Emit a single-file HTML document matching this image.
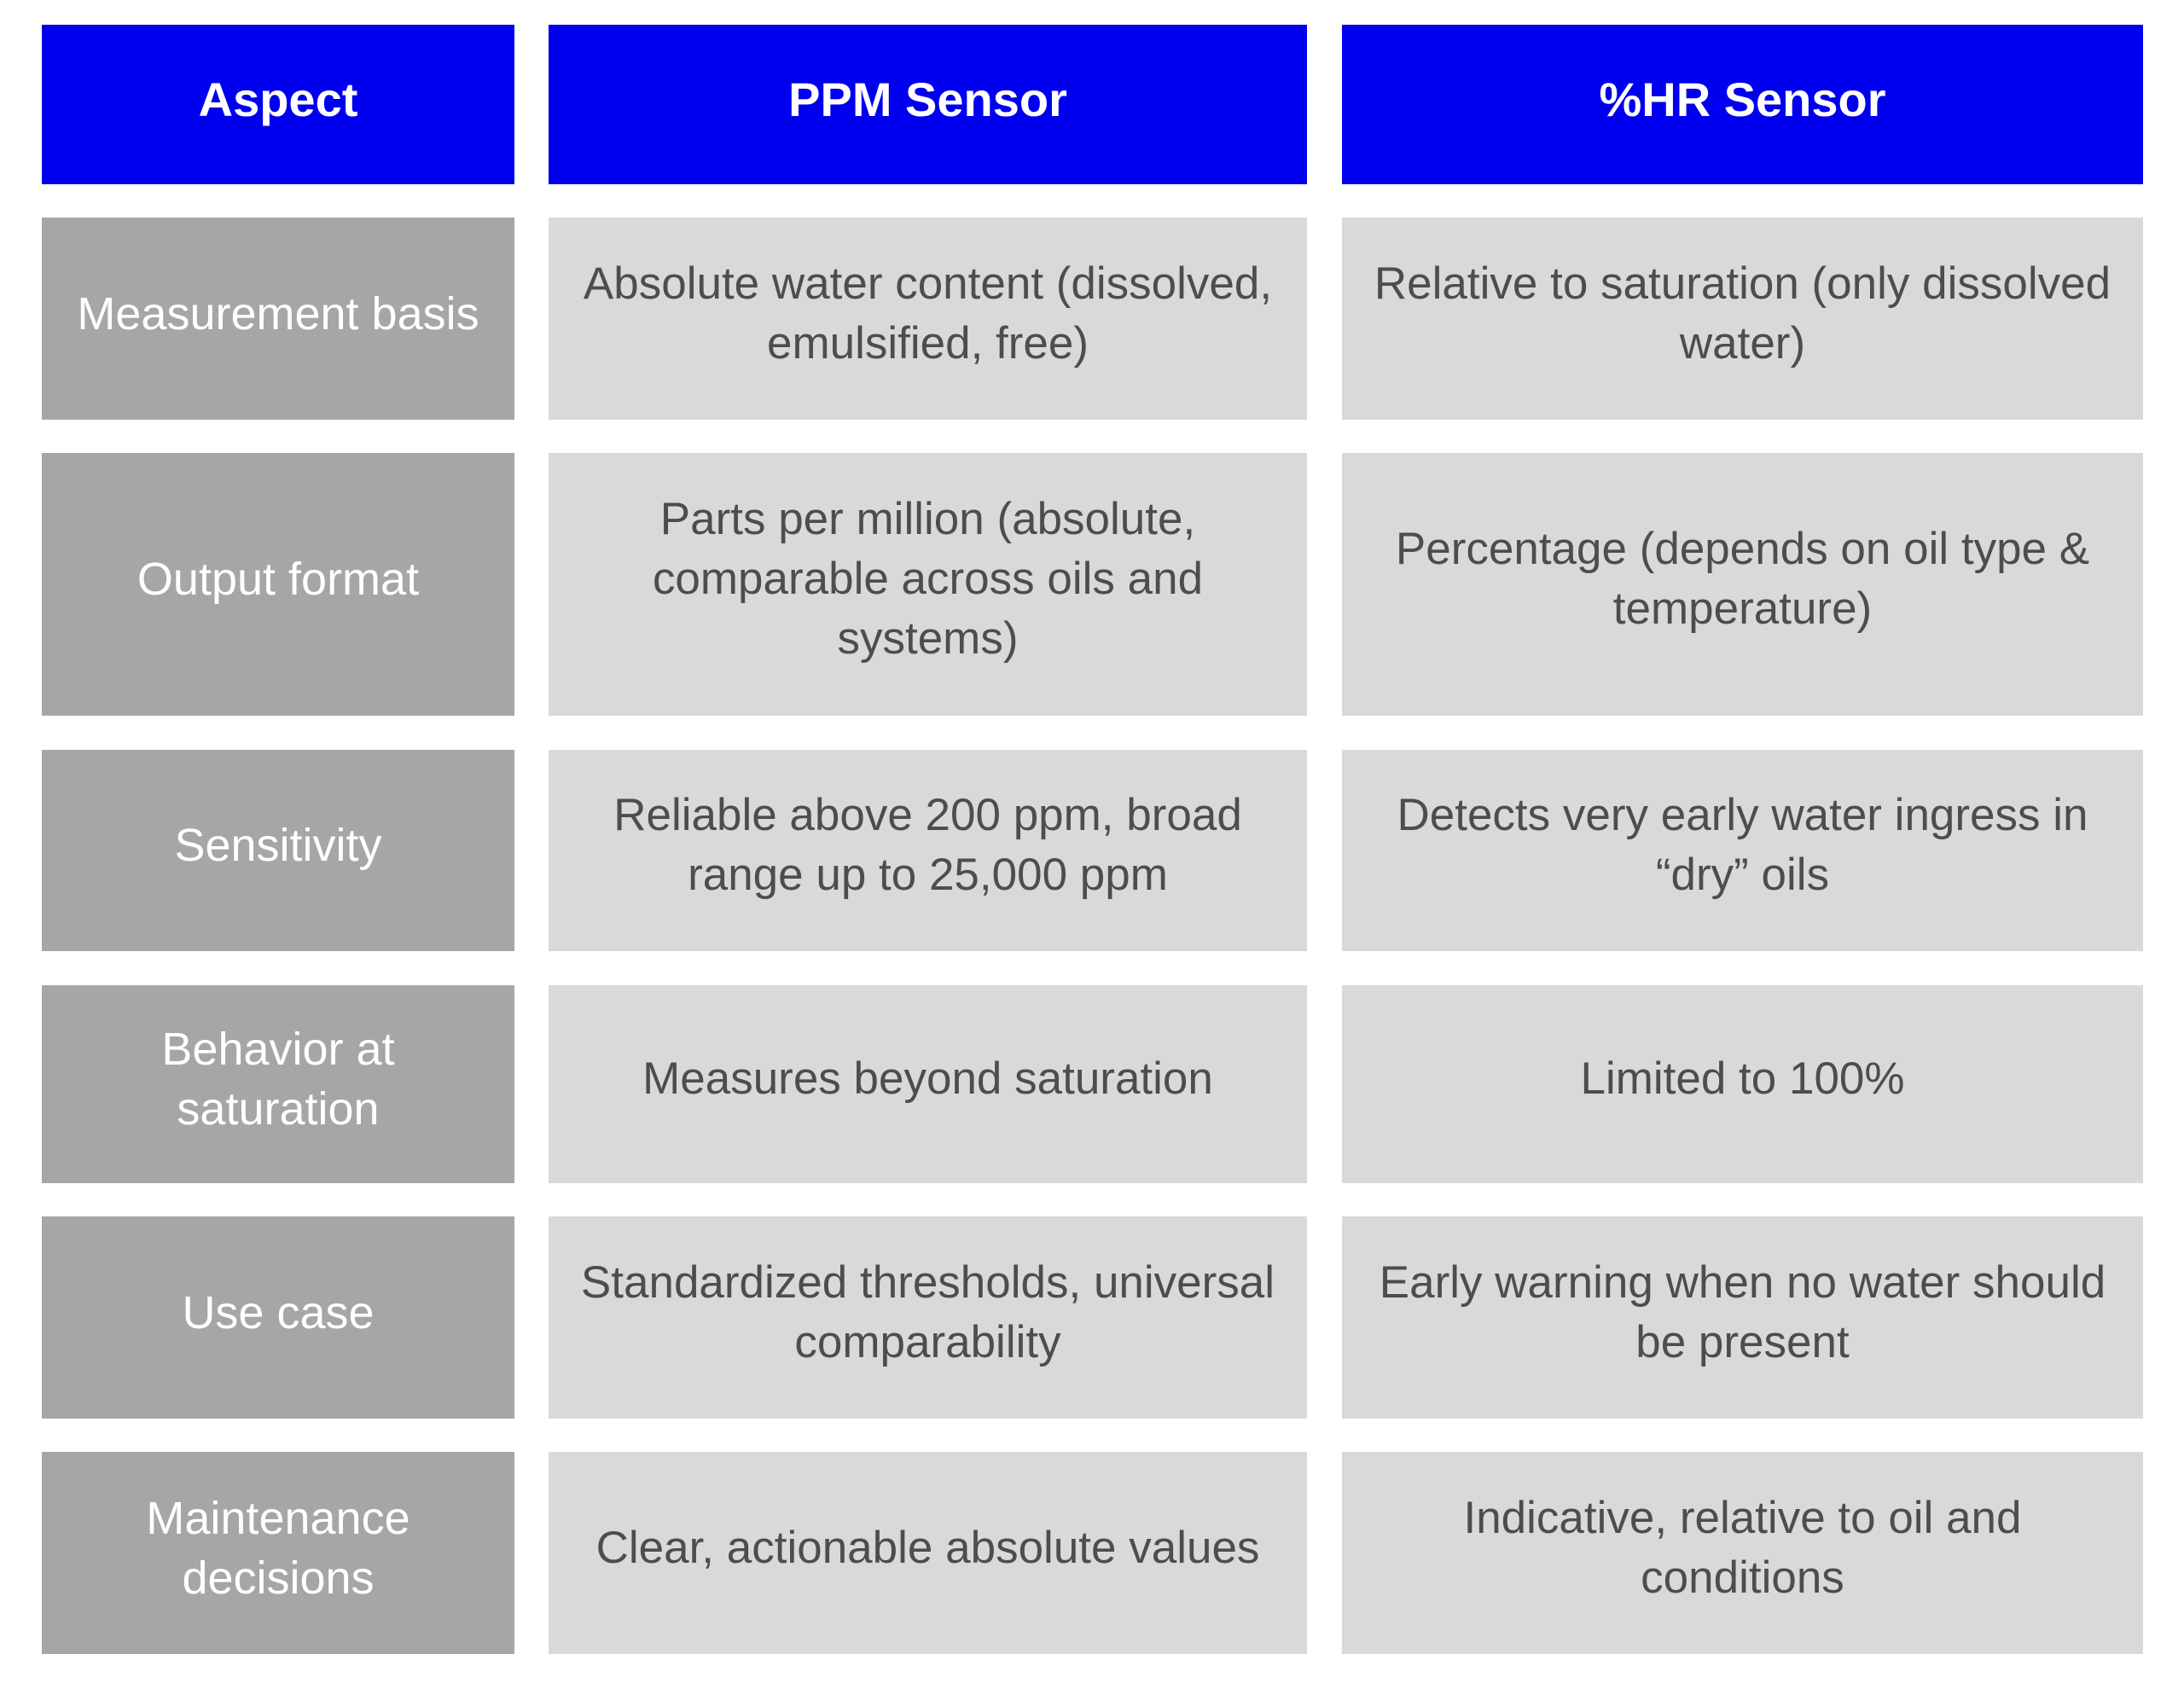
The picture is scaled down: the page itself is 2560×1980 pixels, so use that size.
<!DOCTYPE html>
<html><head><style>
body{margin:0;width:2560px;height:1980px;background:#fff;position:relative;font-family:"Liberation Sans",sans-serif;}
.c{position:absolute;display:flex;align-items:center;justify-content:center;text-align:center;font-size:53px;line-height:70px;white-space:nowrap;color:#4d4d4d;background:#d9d9d9;box-sizing:border-box;padding-bottom:12px;}
.h{background:#0000ee;color:#fff;font-weight:bold;font-size:56px;}
.a{background:#a6a6a6;color:#fff;font-size:54px;}
.c1{left:49px;width:554px}.c2{left:643px;width:889px}.c3{left:1573px;width:939px}
</style></head><body>
<div class="c h c1" style="top:29px;height:187px">Aspect</div>
<div class="c h c2" style="top:29px;height:187px">PPM Sensor</div>
<div class="c h c3" style="top:29px;height:187px">%HR Sensor</div>

<div class="c a c1" style="top:255px;height:237px">Measurement basis</div>
<div class="c c2" style="top:255px;height:237px">Absolute water content (dissolved,<br>emulsified, free)</div>
<div class="c c3" style="top:255px;height:237px">Relative to saturation (only dissolved<br>water)</div>

<div class="c a c1" style="top:531px;height:308px">Output format</div>
<div class="c c2" style="top:531px;height:308px">Parts per million (absolute,<br>comparable across oils and<br>systems)</div>
<div class="c c3" style="top:531px;height:308px">Percentage (depends on oil type &amp;<br>temperature)</div>

<div class="c a c1" style="top:879px;height:236px">Sensitivity</div>
<div class="c c2" style="top:879px;height:236px">Reliable above 200 ppm, broad<br>range up to 25,000 ppm</div>
<div class="c c3" style="top:879px;height:236px">Detects very early water ingress in<br>“dry” oils</div>

<div class="c a c1" style="top:1155px;height:232px">Behavior at<br>saturation</div>
<div class="c c2" style="top:1155px;height:232px">Measures beyond saturation</div>
<div class="c c3" style="top:1155px;height:232px">Limited to 100%</div>

<div class="c a c1" style="top:1426px;height:237px">Use case</div>
<div class="c c2" style="top:1426px;height:237px">Standardized thresholds, universal<br>comparability</div>
<div class="c c3" style="top:1426px;height:237px">Early warning when no water should<br>be present</div>

<div class="c a c1" style="top:1702px;height:237px">Maintenance<br>decisions</div>
<div class="c c2" style="top:1702px;height:237px">Clear, actionable absolute values</div>
<div class="c c3" style="top:1702px;height:237px">Indicative, relative to oil and<br>conditions</div>
</body></html>
